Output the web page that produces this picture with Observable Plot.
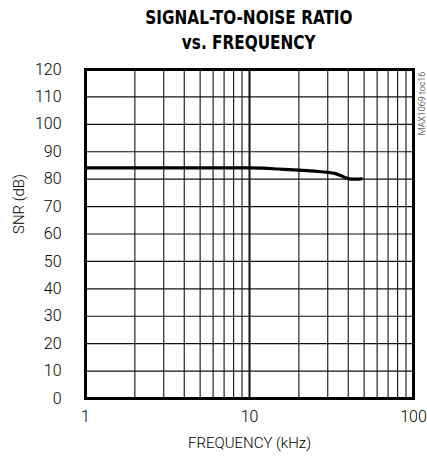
<!DOCTYPE html>
<html>
<head>
<meta charset="utf-8">
<script src="https://cdn.jsdelivr.net/npm/d3@7"></script>
<script src="https://cdn.jsdelivr.net/npm/@observablehq/plot@0.6"></script>
<style>
  html, body { margin: 0; padding: 0; background: #fff; }
  #title {
    position: relative; width: 427px; height: 58px;
    font-family: "DejaVu Sans Condensed", "Liberation Sans Narrow", sans-serif;
    font-weight: bold; font-size: 20px; line-height: 24px; color: #000;
  }
  #title div { position: absolute; left: 85px; width: 328px; text-align: center; }
  #title span { display: inline-block; transform: scaleX(0.85); transform-origin: center; white-space: nowrap; }
  svg { display: block; }
</style>
</head>
<body>
<div id="title"><div style="top:5px"><span>SIGNAL-TO-NOISE RATIO</span></div><div style="top:30px"><span>vs. FREQUENCY</span></div></div>
<div id="chart"></div>
<script>
const freq = [1, 2, 5, 10, 12, 15, 20, 25, 30, 33, 36, 39, 42, 45, 48];
const snr  = [84.1, 84.1, 84.1, 84.1, 84.0, 83.7, 83.3, 82.9, 82.5, 82.1, 81.3, 80.4, 80.0, 80.0, 80.1];
const xTicks = [1, 10, 100];
const yTicks = [0, 10, 20, 30, 40, 50, 60, 70, 80, 90, 100, 110, 120];
const xGrid = [2, 3, 4, 5, 6, 7, 8, 9, 10, 20, 30, 40, 50, 60, 70, 80, 90];
const yGrid = [10, 20, 30, 40, 50, 60, 70, 80, 90, 100, 110];
const xLabel = "FREQUENCY (kHz)";
const yLabel = "SNR (dB)";
const note = "MAX1069 toc16";

const data = freq.map((f, i) => ({f, s: snr[i]}));
const font = "Roboto, 'Liberation Sans', sans-serif";

const chart = Plot.plot({
  width: 427,
  height: 401,
  marginTop: 11,
  marginBottom: 61,
  marginLeft: 85,
  marginRight: 14,
  style: {fontFamily: font, fontSize: "16px", fontWeight: 300, color: "#000", background: "#fff"},
  x: {type: "log", domain: [1, 100]},
  y: {domain: [0, 120]},
  marks: [
    Plot.ruleX(xGrid, {stroke: "#111", strokeWidth: (d) => d === 10 ? 2 : 1.1}),
    Plot.ruleY(yGrid, {stroke: "#111", strokeWidth: 1.1}),
    Plot.line(data, {x: "f", y: "s", stroke: "#000", strokeWidth: 3.2, curve: "monotone-x"}),
    Plot.frame({stroke: "#000", strokeWidth: 3}),
    Plot.axisX({ticks: xTicks, tickSize: 0, tickPadding: 12, tickFormat: d => String(d), label: null, fontSize: 16}),
    Plot.axisY({ticks: yTicks, tickSize: 0, tickPadding: 24, label: null, fontSize: 16}),
    Plot.text([xLabel], {frameAnchor: "bottom", dy: 49, text: d => d, fontSize: 15}),
    Plot.text([yLabel], {frameAnchor: "left", dx: -66, rotate: -90, text: d => d, fontSize: 15}),
    Plot.text([note], {frameAnchor: "top-right", dx: 9, dy: 34, rotate: -90, textAnchor: "middle", lineAnchor: "middle", text: d => d, fontSize: 9, fill: "#222"})
  ]
});
document.getElementById("chart").appendChild(chart);
</script>
</body>
</html>
